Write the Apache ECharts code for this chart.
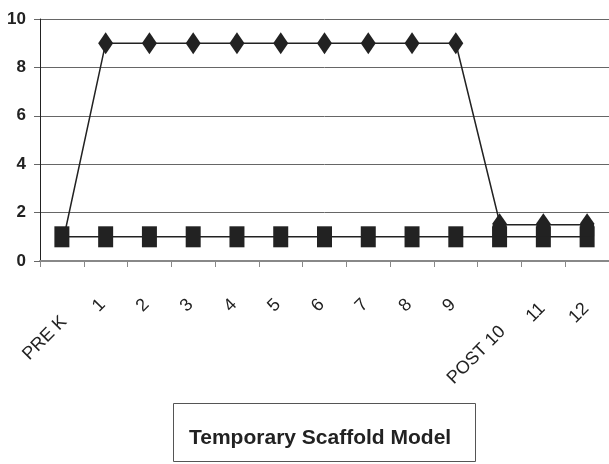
<!DOCTYPE html>
<html>
<head>
<meta charset="utf-8">
<script src="https://cdn.jsdelivr.net/npm/echarts@6/dist/echarts.min.js"></script>
<style>html,body{margin:0;padding:0;background:#fff;}#c{width:609px;height:464px;}</style>
</head>
<body>
<div id="c"></div>
<script>
const categories = ['PRE K','1','2','3','4','5','6','7','8','9','POST 10','11','12'];
const diamondValues = [0.6,9,9,9,9,9,9,9,9,9,1.6,null,null];
const squareValues = [1,1,1,1,1,1,1,1,1,1,1,1,1];
const triangleValues = [null,null,null,null,null,null,null,null,null,null,1.5,1.5,1.5];
const yTicks = {min:0, max:10, interval:2};
const titleText = 'Temporary Scaffold Model';

// label placement style (offset from the category's axis point, in px)
function labelOffset(text){
  if (text.length >= 5 && text.indexOf(' ') > 0) {
    return text.length > 5 ? [3, 68] : [2, 58];
  }
  return text.length === 2 ? [-1, 45] : [-3, 41];
}

const narrow = "'Liberation Sans Narrow','Arial Narrow','Liberation Sans',sans-serif";
const diamondData = diamondValues.map((v,i)=> (i===0||i===10) ? {value:v, symbol:'none'} : v);

const chart = echarts.init(document.getElementById('c'));
chart.setOption({
  animation:false,
  backgroundColor:'#fff',
  grid:{left:40, right:0, top:19, bottom:203, containLabel:false},
  title:{
    text:titleText, left:173, top:403,
    padding:[25,25,13,16],
    borderColor:'#555', borderWidth:1,
    textStyle:{fontFamily:narrow, fontWeight:'bold', fontSize:21, color:'#222'}
  },
  xAxis:{
    type:'category', data:categories, boundaryGap:true,
    axisLine:{lineStyle:{color:'#888', width:2}},
    axisTick:{show:true, length:6, alignWithLabel:false, interval:0, lineStyle:{color:'#888'}},
    axisLabel:{show:false},
    splitLine:{show:false}
  },
  yAxis:{
    type:'value', min:yTicks.min, max:yTicks.max, interval:yTicks.interval,
    axisLine:{show:true, lineStyle:{color:'#222', width:1}},
    axisTick:{show:true, length:6, lineStyle:{color:'#666'}},
    axisLabel:{margin:14, fontSize:17, fontWeight:'bold', fontFamily:narrow, color:'#222'},
    splitLine:{lineStyle:{color:'#666', width:1}}
  },
  series:[
    {type:'line', data:diamondData, symbol:'diamond', symbolSize:[15,22], connectNulls:false,
     lineStyle:{color:'#222', width:1.5}, itemStyle:{color:'#222'}, z:2},
    {type:'line', data:squareValues, symbol:'rect', symbolSize:[15,21],
     lineStyle:{color:'#222', width:1.5}, itemStyle:{color:'#222'}, z:3},
    {type:'line', data:triangleValues, symbol:'path://M7,0 L14,10 L14,23 L0,23 L0,10 Z', symbolSize:[14,23],
     lineStyle:{color:'#222', width:1.5}, itemStyle:{color:'#222'}, z:4}
  ]
});

const labels = categories.map((c,i)=>{
  const p = chart.convertToPixel({xAxisIndex:0, yAxisIndex:0}, [i, yTicks.min]);
  const off = labelOffset(c);
  return {
    type:'text', x:p[0]+off[0], y:p[1]+off[1], rotation:Math.PI/4, silent:true,
    style:{text:c, align:'right', verticalAlign:'middle', fill:'#222',
      font:"18px 'Liberation Sans', sans-serif"}
  };
});
chart.setOption({graphic:labels});
</script>
</body>
</html>
